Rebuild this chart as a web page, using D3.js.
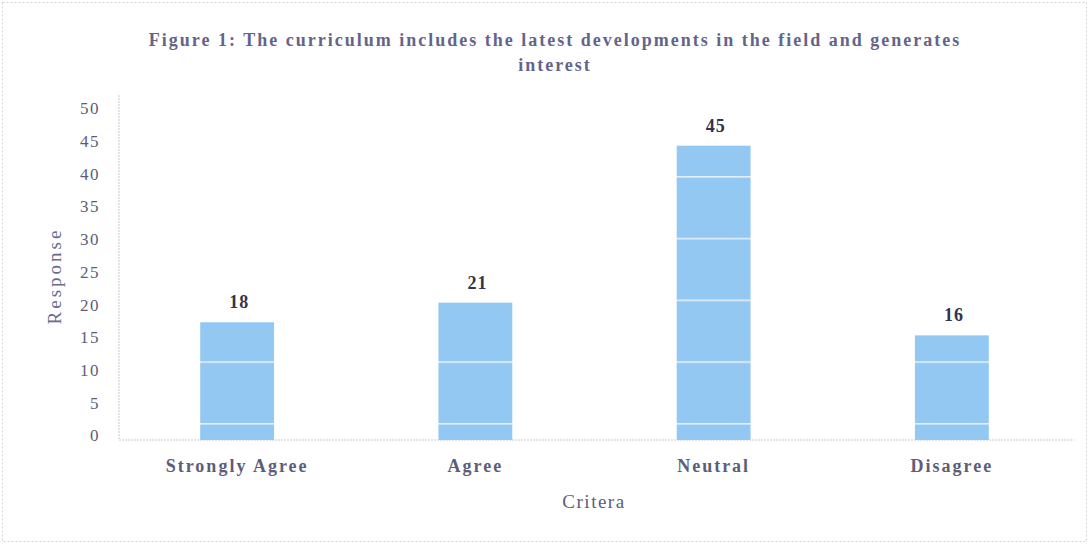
<!DOCTYPE html>
<meta charset="utf-8">
<script src="https://d3js.org/d3.v7.min.js"></script>
<style>
  body { margin: 0; background: #fff; }
  text { font-family: "Liberation Serif", "DejaVu Serif", serif; }
</style>
<body>
<div id="chart"></div>
<script>
var categories = ["Strongly Agree", "Agree", "Neutral", "Disagree"];
var responses = [18, 21, 45, 16];
var yTicks = [0, 5, 10, 15, 20, 25, 30, 35, 40, 45, 50];
var titleLines = ["Figure 1: The curriculum includes the latest developments in the field and generates", "interest"];

var W = 1089, H = 547;
var svg = d3.select("#chart").append("svg")
    .attr("width", W).attr("height", H);

// pale scanned-page stripes on the bars
var defs = svg.append("defs");
var pat = defs.append("pattern")
    .attr("id", "stripes")
    .attr("patternUnits", "userSpaceOnUse")
    .attr("x", 0).attr("y", 52.5)
    .attr("width", 10).attr("height", 61.75);
pat.append("rect").attr("width", 10).attr("height", 61.75).attr("fill", "#92c8f2");
pat.append("rect").attr("y", 0).attr("width", 10).attr("height", 1.6).attr("fill", "#e4eef9");

svg.append("rect")
    .attr("x", 2.5).attr("y", 2.5)
    .attr("width", W - 5).attr("height", H - 8)
    .attr("fill", "none")
    .attr("stroke", "#d2d2da")
    .attr("stroke-dasharray", "2,2");

var x = d3.scaleBand()
    .domain(categories)
    .range([118, 1071])
    .paddingInner(0.69)
    .paddingOuter(0.345);

var y = d3.scaleLinear()
    .domain([0, 50])
    .range([440, 113]);

// y axis
var yAxis = svg.append("g")
    .attr("transform", "translate(119,0)")
    .call(d3.axisLeft(y).tickValues(yTicks).tickSize(0).tickPadding(19));
yAxis.select(".domain")
    .attr("stroke", "#c9c9d2")
    .attr("stroke-dasharray", "2,1")
    .attr("d", "M0," + (y(50) - 18) + "V" + y(0));
yAxis.selectAll("text")
    .attr("dy", "0.05em")
    .style("font-size", "17px")
    .style("letter-spacing", "1.5px")
    .style("fill", "#5d5d78");

// x axis
var xAxis = svg.append("g")
    .attr("transform", "translate(0," + y(0) + ")")
    .call(d3.axisBottom(x).tickSize(0));
xAxis.select(".domain")
    .attr("stroke", "#c9c9d2")
    .attr("stroke-dasharray", "2,1")
    .attr("d", "M119,0H1074");
xAxis.selectAll("text")
    .attr("y", 32).attr("dy", 0)
    .style("font-size", "18px")
    .style("font-weight", "bold")
    .style("letter-spacing", "2px")
    .style("fill", "#5d5d7a");

// bars
svg.selectAll(".bar")
    .data(responses)
    .enter()
    .append("rect")
      .attr("class", "bar")
      .attr("x", function(d, i) { return x(categories[i]); })
      .attr("y", function(d) { return y(d); })
      .attr("width", x.bandwidth())
      .attr("height", function(d) { return y(0) - y(d); })
      .attr("fill", "url(#stripes)");

svg.selectAll(".val")
    .data(responses)
    .enter()
    .append("text")
      .attr("class", "val")
      .attr("x", function(d, i) { return x(categories[i]) + x.bandwidth() / 2 + 2; })
      .attr("y", function(d) { return y(d) - 14; })
      .attr("text-anchor", "middle")
      .style("font-size", "18px")
      .style("font-weight", "bold")
      .style("letter-spacing", "1px")
      .style("fill", "#33334a")
      .text(function(d) { return d; });

// titles
svg.selectAll(".title")
    .data(titleLines)
    .enter()
    .append("text")
      .attr("class", "title")
      .attr("x", 555)
      .attr("y", function(d, i) { return 46 + i * 25; })
      .attr("text-anchor", "middle")
      .style("font-size", "18px")
      .style("font-weight", "bold")
      .style("letter-spacing", "2px")
      .style("fill", "#64648a")
      .text(function(d) { return d; });

svg.append("text")
    .attr("x", 594)
    .attr("y", 508)
    .attr("text-anchor", "middle")
    .style("font-size", "19px")
    .style("letter-spacing", "1.5px")
    .style("fill", "#5d5d7a")
    .text("Critera");

svg.append("text")
    .attr("transform", "translate(61,276) rotate(-90)")
    .attr("text-anchor", "middle")
    .style("font-size", "19px")
    .style("letter-spacing", "3px")
    .style("fill", "#6a6a8c")
    .text("Response");
</script>
</body>
